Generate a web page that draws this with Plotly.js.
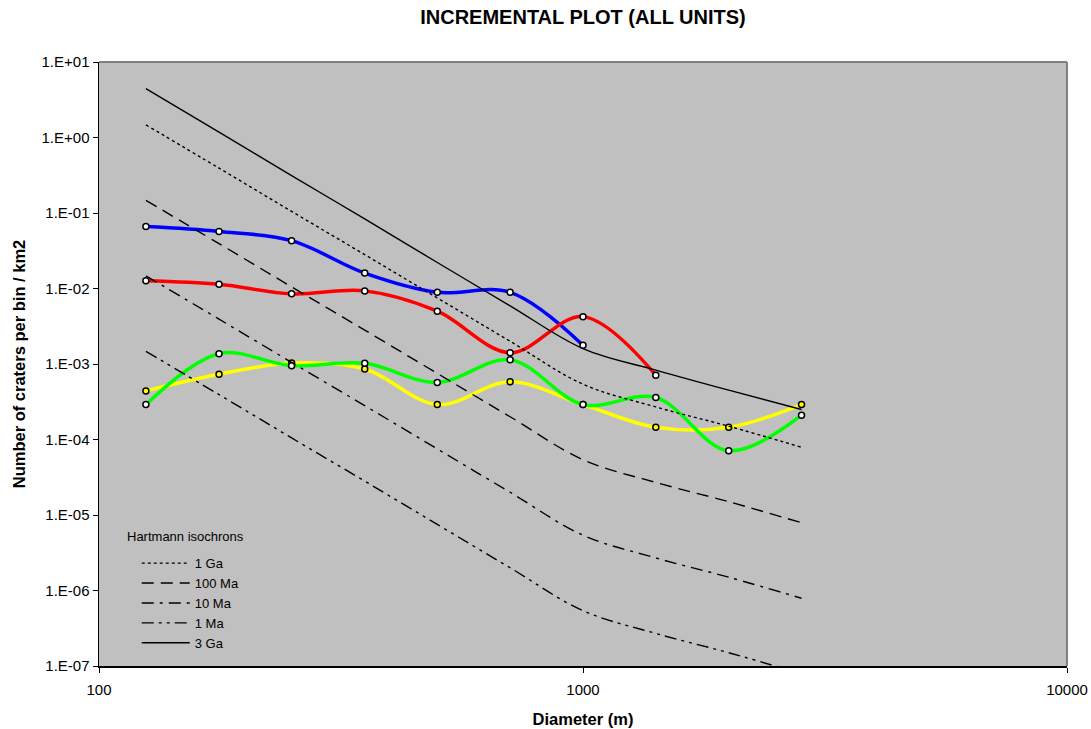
<!DOCTYPE html>
<html>
<head>
<meta charset="utf-8">
<script src="https://cdn.plot.ly/plotly-3.0.1.min.js"></script>
<style>
  html, body { margin: 0; padding: 0; background: #ffffff; }
  #chart { width: 1091px; height: 729px; }
</style>
</head>
<body>
<div id="chart"></div>
<script>
// Crater diameter bins (m)
var diameters = [125, 177, 250, 354, 500, 707, 1000, 1414, 2000, 2828];

// Counted crater densities per bin (craters / km2) for each unit
var blueUnit   = [0.066, 0.057, 0.043, 0.016, 0.0089, 0.0089, 0.00177];
var redUnit    = [0.0127, 0.0114, 0.0085, 0.0093, 0.0050, 0.00141, 0.00424, 0.00071];
var yellowUnit = [0.00044, 0.00073, 0.00103, 0.00086, 0.00029, 0.00058, 0.00029, 0.000145, 0.000145, 0.00029];
var greenUnit  = [0.00029, 0.00137, 0.00095, 0.00102, 0.00057, 0.00114, 0.00029, 0.00036, 0.000071, 0.00021];

// Hartmann isochrons, same bins
var iso1Ga   = [1.47, 0.393, 0.105, 0.0281, 0.0075, 0.0020, 0.00054, 0.00027, 0.00015, 0.000079];
var iso100Ma = [0.147, 0.0393, 0.0105, 0.00281, 0.00075, 0.00020, 0.000054, 0.000027, 0.000015, 0.0000079];
var iso10Ma  = [0.0147, 0.00393, 0.00105, 0.000281, 0.000075, 0.000020, 0.0000054, 0.0000027, 0.0000015, 0.00000079];
var iso1Ma   = [0.00147, 0.000393, 0.000105, 0.0000281, 0.0000075, 0.0000020, 0.00000054, 0.00000027, 0.00000015, 0.000000079];
var iso3Ga   = [4.43, 1.18, 0.313, 0.0834, 0.0221, 0.0059, 0.0016, 0.00083, 0.00045, 0.00025];

// Axis ticks
var yTickVals = [1e-7, 1e-6, 1e-5, 1e-4, 1e-3, 1e-2, 1e-1, 1, 10];
var yTickText = ['1.E-07', '1.E-06', '1.E-05', '1.E-04', '1.E-03', '1.E-02', '1.E-01', '1.E+00', '1.E+01'];
var xTickVals = [100, 1000, 10000];
var xTickText = ['100', '1000', '10000'];

var FONT = 'Liberation Sans, Arial, sans-serif';

function unitTrace(values, color, fill) {
  return {
    x: diameters.slice(0, values.length),
    y: values,
    type: 'scatter',
    mode: 'lines+markers',
    showlegend: false,
    hoverinfo: 'x+y',
    line: { color: color, width: 3.5, shape: 'spline', smoothing: 1 },
    marker: { symbol: 'circle', size: 6, color: fill, line: { color: '#000000', width: 1.5 } }
  };
}

function isoTrace(name, values, dash) {
  return {
    x: diameters,
    y: values,
    name: name,
    type: 'scatter',
    mode: 'lines',
    line: { color: '#000000', width: 1.4, dash: dash, shape: 'spline', smoothing: 1 }
  };
}

var traces = [
  unitTrace(blueUnit, '#0000ff', '#ffffff'),
  unitTrace(redUnit, '#ff0000', '#ffffff'),
  unitTrace(yellowUnit, '#ffff00', '#ffff00'),
  unitTrace(greenUnit, '#00ff00', '#ffffff'),
  isoTrace('1 Ga', iso1Ga, '3px,3px'),
  isoTrace('100 Ma', iso100Ma, '12px,7px'),
  isoTrace('10 Ma', iso10Ma, '12px,6px,3px,6px'),
  isoTrace('1 Ma', iso1Ma, '12px,5px,3px,5px,3px,5px'),
  isoTrace('3 Ga', iso3Ga, 'solid')
];

var layout = {
  width: 1091,
  height: 729,
  margin: { l: 99, r: 24, t: 62, b: 63 },
  paper_bgcolor: '#ffffff',
  plot_bgcolor: '#c0c0c0',
  font: { family: FONT, size: 14, color: '#000000' },
  title: {
    text: '<b>INCREMENTAL PLOT (ALL UNITS)</b>',
    font: { family: FONT, size: 20, color: '#000000' },
    xref: 'paper', x: 0.5, xanchor: 'center',
    yref: 'container', y: 0.977, yanchor: 'middle'
  },
  xaxis: {
    type: 'log',
    range: [2, 4],
    tickvals: xTickVals,
    ticktext: xTickText,
    ticks: 'outside',
    ticklen: 5,
    tickwidth: 1,
    tickcolor: '#000000',
    ticklabelstandoff: 4,
    showgrid: false,
    zeroline: false,
    showline: true,
    linecolor: '#000000',
    linewidth: 1.5,
    tickfont: { family: FONT, size: 15 },
    title: { text: '<b>Diameter (m)</b>', font: { family: FONT, size: 16.5 }, standoff: 17 }
  },
  yaxis: {
    type: 'log',
    range: [-7, 1],
    tickvals: yTickVals,
    ticktext: yTickText,
    ticks: 'outside',
    ticklen: 5,
    tickwidth: 1,
    tickcolor: '#000000',
    showgrid: false,
    zeroline: false,
    showline: true,
    linecolor: '#000000',
    linewidth: 1.5,
    tickfont: { family: FONT, size: 15 },
    title: { text: '<b>Number of craters per bin / km2</b>', font: { family: FONT, size: 16.5 }, standoff: 12 }
  },
  showlegend: true,
  legend: {
    x: 0.039, xanchor: 'left',
    y: 0.195, yanchor: 'top',
    bgcolor: 'rgba(0,0,0,0)',
    borderwidth: 0,
    font: { family: FONT, size: 13, color: '#000000' },
    itemwidth: 48,
    traceorder: 'normal'
  },
  annotations: [{
    text: 'Hartmann isochrons',
    xref: 'paper', yref: 'paper',
    x: 0.0268, y: 0.2152,
    xanchor: 'left', yanchor: 'middle',
    showarrow: false,
    font: { family: FONT, size: 13, color: '#000000' }
  }],
  shapes: [
    { type: 'line', xref: 'paper', yref: 'paper', x0: 0, x1: 1, y0: 1, y1: 1, line: { color: '#808080', width: 2 } },
    { type: 'line', xref: 'paper', yref: 'paper', x0: 1, x1: 1, y0: 0, y1: 1, line: { color: '#808080', width: 2 } }
  ]
};

Plotly.newPlot('chart', traces, layout, { displayModeBar: false, staticPlot: true });
</script>
</body>
</html>
